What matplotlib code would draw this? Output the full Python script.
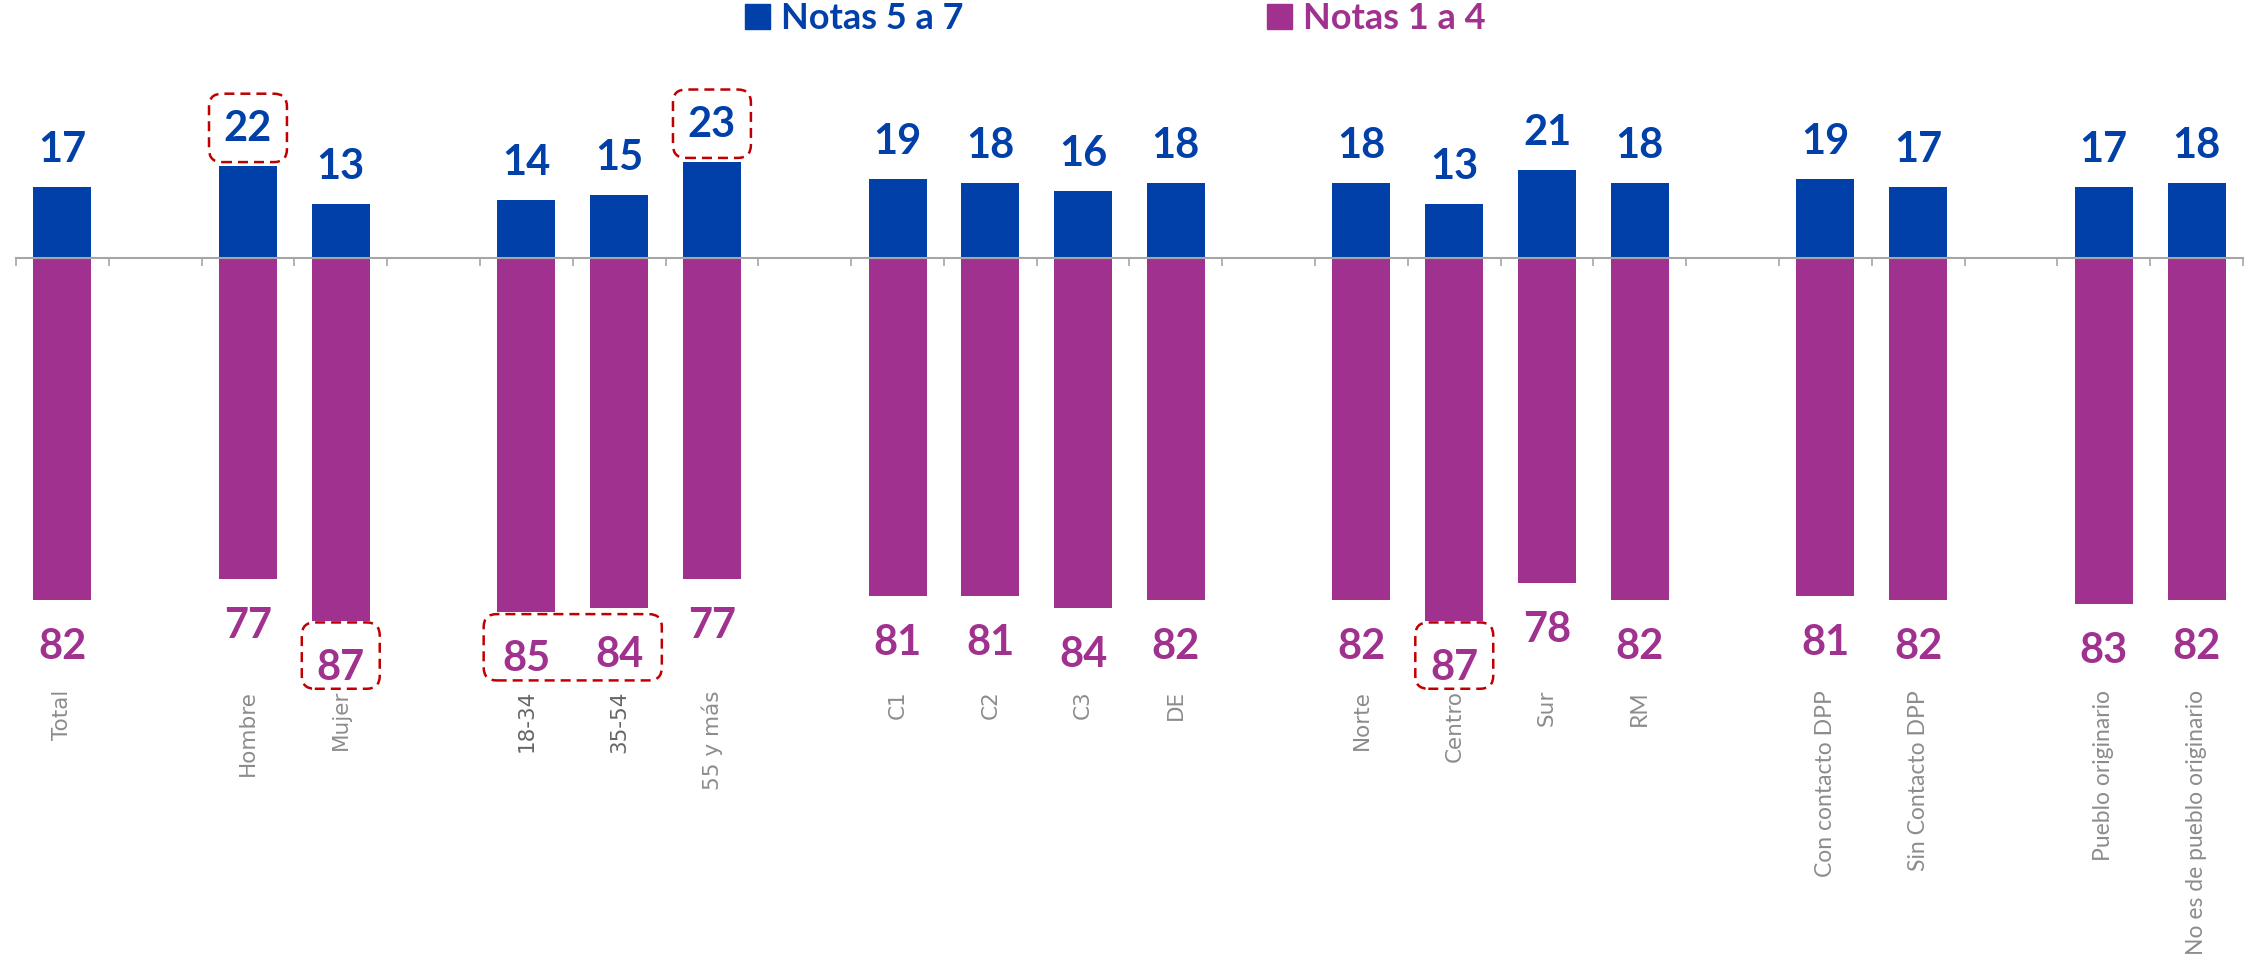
import numpy as np
import matplotlib.pyplot as plt
from matplotlib.patches import FancyBboxPatch, Patch

# Categorias agrupadas (un espacio vacio entre grupos)
grupos = [
    ["Total"],
    ["Hombre", "Mujer"],
    ["18-34", "35-54", "55 y más"],
    ["C1", "C2", "C3", "DE"],
    ["Norte", "Centro", "Sur", "RM"],
    ["Con contacto DPP", "Sin Contacto DPP"],
    ["Pueblo originario", "No es de pueblo originario"],
]

notas_5_7 = [17, 22, 13, 14, 15, 23, 19, 18, 16, 18, 18, 13, 21, 18, 19, 17, 17, 18]
notas_1_4 = [82, 77, 87, 85, 84, 77, 81, 81, 84, 82, 82, 87, 78, 82, 81, 82, 83, 82]

# cajas rojas punteadas: (serie, primera categoria, ultima categoria)
destacados = [
    ("alta", "Hombre", "Hombre"),
    ("alta", "55 y más", "55 y más"),
    ("baja", "Mujer", "Mujer"),
    ("baja", "18-34", "35-54"),
    ("baja", "Centro", "Centro"),
]

AZUL = "#0040A8"
MORADO = "#A0318F"
ROJO = "#C00000"
GRIS = "#A6A6A6"

categorias = []
pos = []
slot = 0
for g in grupos:
    for c in g:
        categorias.append(c)
        pos.append(slot)
        slot += 1
    slot += 1
n_slots = slot - 1
pos = np.array(pos)
alta = np.array(notas_5_7)
baja = -np.array(notas_1_4)

W, H = 2250, 974
fig = plt.figure(figsize=(W / 100, H / 100), dpi=100)
# eje: cero en y=258 px, 4.17 px por unidad
y_top, y_bot = 42, -105
px_unit = 4.17
top_px = 258 - y_top * px_unit
bot_px = 258 - y_bot * px_unit
ax = fig.add_axes([16 / W, 1 - bot_px / H, 2227 / W, (bot_px - top_px) / H])
ax.set_xlim(-0.5, n_slots - 0.5)
ax.set_ylim(y_bot, y_top)

ax.bar(pos, alta, width=0.625, color=AZUL, zorder=2)
ax.bar(pos, baja, width=0.625, color=MORADO, zorder=2)

for x, v in zip(pos, alta):
    ax.annotate(f"{v}", (x, v), xytext=(0, 13), textcoords="offset points",
                ha="center", va="bottom", fontsize=30, fontweight="bold",
                family="Lato", color=AZUL)
for x, v in zip(pos, baja):
    ax.annotate(f"{-v}", (x, v), xytext=(0, -20), textcoords="offset points",
                ha="center", va="top", fontsize=30, fontweight="bold",
                family="Lato", color=MORADO)

calibri_like = {"RM", "Con contacto DPP", "Sin Contacto DPP",
                "Pueblo originario", "No es de pueblo originario"}
for x, c in zip(pos, categorias):
    if c in calibri_like:
        fam, fs = "Lato", 16.5
    else:
        fam, fs = "DejaVu Sans", 15.5
    col = "#666666" if c in ("18-34", "35-54") else "#8C8C8C"
    ax.text(x, -103.6, c, rotation=90, ha="center", va="top",
            family=fam, fontsize=fs, color=col)

# cajas destacadas
for serie, c0, c1 in destacados:
    i0, i1 = categorias.index(c0), categorias.index(c1)
    half = 0.42 if i0 == i1 else 0.46
    x0, x1 = pos[i0] - half, pos[i1] + half
    if serie == "alta":
        v = alta[i0:i1 + 1].max()
        y0, y1 = v + 1.0, v + 17.4
    else:
        v = -np.abs(baja[i0:i1 + 1]).max()
        y0, y1 = v - 16.3, v - 0.4
    box = FancyBboxPatch((x0, y0), x1 - x0, y1 - y0,
                         boxstyle="round,pad=0,rounding_size=0.14",
                         mutation_aspect=92.8 / px_unit,
                         fc="none", ec=ROJO, lw=1.8,
                         ls=(0, (4, 2.4)), zorder=4, clip_on=False)
    ax.add_patch(box)

# linea del cero con marcas en los limites de cada espacio
for s in ["top", "right", "left"]:
    ax.spines[s].set_visible(False)
ax.spines["bottom"].set_position(("data", 0))
ax.spines["bottom"].set_color(GRIS)
ax.spines["bottom"].set_linewidth(1.5)
ax.spines["bottom"].set_zorder(3)
ax.set_xticks(np.arange(-0.5, n_slots, 1.0))
ax.tick_params(axis="x", direction="out", length=6, width=1.2, color=GRIS,
               labelbottom=False)
ax.set_yticks([])

handles = [Patch(color=AZUL), Patch(color=MORADO)]
leg = fig.legend(handles, ["Notas 5 a 7", "Notas 1 a 4"], loc="upper left",
                 bbox_to_anchor=(745 / W, 1 - 2 / H), ncol=2, frameon=False,
                 handlelength=0.7, handleheight=0.7, handletextpad=0.3,
                 columnspacing=8.4, borderpad=0, borderaxespad=0,
                 prop={"family": "Lato", "weight": "bold", "size": 26},
                 labelcolor=[AZUL, MORADO])

fig.savefig("out.png", dpi=100)
